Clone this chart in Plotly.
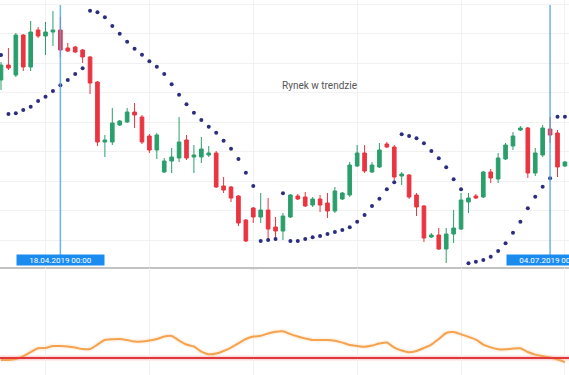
import plotly.graph_objects as go

# ---------------- data (bar index, OHLC, SAR, ADX) ----------------
bars = list(range(77))

open_ = [190, 205, 195, 235, 203, 240, 234, 238, 240, 222, 223, 220, 213, 188, 128, 128, 145, 148, 158, 153,
         134, 120, 98, 109, 112, 130, 113, 113, 115, 117, 84, 83, 74, 50, 62, 53, 60, 43, 39, 53,
         74, 73, 65, 71, 67, 59, 71, 75, 104, 117, 98, 103, 126, 123, 94, 95, 75, 64, 33, 35,
         21, 36, 41, 68, 74, 73, 98, 91, 111, 124, 140, 142, 97, 115, 141, 137, 104]
high = [208, 222, 237, 236, 249, 243, 248, 259, 253, 227, 224, 221, 214, 189, 135, 162, 150, 162, 167, 155,
        136, 137, 112, 122, 153, 135, 125, 133, 124, 119, 93, 84, 75, 51, 63, 77, 72, 53, 57, 76,
        76, 78, 73, 75, 77, 83, 78, 108, 125, 125, 108, 127, 128, 125, 98, 96, 77, 65, 37, 42,
        42, 60, 77, 77, 76, 99, 101, 117, 127, 138, 144, 143, 122, 145, 153, 140, 109]
low = [180, 200, 193, 199, 199, 232, 215, 224, 213, 218, 217, 207, 176, 124, 113, 125, 144, 147, 142, 126,
       117, 111, 97, 97, 108, 110, 97, 107, 113, 82, 77, 68, 44, 28, 47, 47, 30, 32, 30, 52,
       70, 63, 63, 58, 52, 57, 70, 73, 103, 97, 97, 102, 122, 90, 85, 71, 54, 28, 32, 20,
       7, 27, 40, 57, 71, 72, 87, 87, 110, 120, 139, 92, 94, 113, 127, 93, 103]
close = [205, 202, 235, 203, 238, 234, 238, 240, 220, 219, 218, 213, 187, 128, 130, 147, 149, 158, 155, 128,
         120, 135, 109, 113, 128, 112, 115, 121, 117, 83, 80, 72, 47, 29, 53, 60, 41, 39, 54, 75,
         71, 64, 71, 65, 59, 79, 77, 105, 117, 99, 105, 120, 123, 93, 96, 73, 63, 32, 35, 21,
         36, 42, 70, 72, 72, 98, 92, 112, 125, 134, 142, 97, 117, 142, 135, 103, 108]

sar = [215, 156, 156.7, 160, 163.3, 169, 173.3, 179, 184.7, 190, 196, 201.7, 259.3, 257.7, 252.7, 244, 236.3,
       228.3, 221.3, 215.3, 208.7, 203.3, 196, 185.7, 175.3, 165.7, 157.3, 150, 143.3, 137.3, 129.3, 121.3,
       111, 97.3, 84, 29, 30, 31, 76.7, 29, 29, 31, 32.7, 34, 36, 38, 40, 42.7, 48.3, 55, 64, 71.3, 80.7,
       87.7, 135.7, 134, 131.7, 126.7, 119, 111.7, 102.7, 90.7, 80.7, 6.7, 8.3, 10, 13.3, 19, 26.7, 37.3,
       48.3, 61.7, 73.3, 83.3, 91.7, 153.3, 153.3]

adx = [18.7, 18.7, 19.3, 21.3, 24, 26.5, 26.7, 28, 28, 27.7, 27, 26, 26, 29, 32, 32.5, 32.7, 32, 31, 31,
       31.7, 32.7, 34.3, 34.7, 31.7, 29, 27.7, 24.3, 22.5, 23, 24.7, 27, 29.8, 32.7, 34.3, 34.8, 36.3, 37.5,
       37.8, 35.9, 34.3, 33, 32, 32, 32, 31.5, 30.3, 28.7, 28.1, 27.5, 28.3, 29.7, 30.3, 27, 25, 23.8, 24.7,
       26.7, 29, 32.7, 36.7, 37.3, 35.8, 34.1, 32.3, 29, 27.1, 25.8, 25.8, 26.3, 26.5, 24, 22.3, 21.3, 20.3,
       19, 17.3]
adx_threshold = 20

marker_bars = [8, 74]
marker_labels = ["18.04.2019 00:00", "04.07.2019 00:00"]
trend_label = "Rynek w trendzie"

# ---------------- styling ----------------
GREEN = "#2a9f6c"
RED = "#ea3440"
NAVY = "#2b2d7e"
GRID = "#f1f1f1"
MAIN_BOTTOM = 0.288
SUB_TOP = 0.2853

fig = go.Figure()

fig.add_trace(go.Candlestick(
    x=bars, open=open_, high=high, low=low, close=close,
    increasing=dict(line=dict(color=GREEN, width=1), fillcolor=GREEN),
    decreasing=dict(line=dict(color=RED, width=1), fillcolor=RED),
    whiskerwidth=0, xaxis="x", yaxis="y", hoverinfo="skip", showlegend=False,
))

fig.add_trace(go.Scatter(
    x=bars, y=sar, mode="markers",
    marker=dict(color=NAVY, size=4), xaxis="x", yaxis="y", hoverinfo="skip", showlegend=False,
))

# faint glow under the ADX line
fig.add_trace(go.Scatter(
    x=bars, y=adx, mode="lines", line=dict(color="rgba(245,165,80,0.12)", width=5, shape="spline", smoothing=0.6),
    xaxis="x2", yaxis="y2", hoverinfo="skip", showlegend=False,
))
fig.add_trace(go.Scatter(
    x=bars, y=adx, mode="lines", line=dict(color="#f4a24e", width=2, shape="spline", smoothing=0.6),
    xaxis="x2", yaxis="y2", hoverinfo="skip", showlegend=False,
))

shapes = []
# threshold line (with faint halo)
shapes.append(dict(type="line", xref="paper", x0=0, x1=1, yref="y2", y0=adx_threshold, y1=adx_threshold,
                   line=dict(color="rgba(229,57,53,0.18)", width=5), layer="below"))
shapes.append(dict(type="line", xref="paper", x0=0, x1=1, yref="y2", y0=adx_threshold, y1=adx_threshold,
                   line=dict(color="#e2383c", width=2)))
# vertical marker lines
for b in marker_bars:
    shapes.append(dict(type="line", xref="x", x0=b, x1=b, yref="paper", y0=MAIN_BOTTOM + 0.01, y1=0.987,
                       line=dict(color="rgba(80,165,240,0.85)", width=1.5), layer="above"))
# small splitter handle
shapes.append(dict(type="rect", xref="paper", x0=250 / 569, x1=258 / 569, yref="paper",
                   y0=MAIN_BOTTOM - 0.006, y1=MAIN_BOTTOM, line=dict(width=0), fillcolor="#c4c4c4"))

annotations = []
for b, lab in zip(marker_bars, marker_labels):
    annotations.append(dict(
        x=b, xref="x", y=MAIN_BOTTOM + 0.002, yref="paper", yanchor="bottom", xanchor="center",
        text=lab, showarrow=False, font=dict(color="white", size=8, family="Roboto"),
        bgcolor="#1a8cf0", width=86, height=9, borderpad=0.5,
    ))
annotations.append(dict(
    x=319 / 569, xref="paper", y=1 - 78 / 375, yref="paper", text=trend_label, showarrow=False,
    font=dict(color="#555555", size=10, family="Roboto"),
))

fig.update_layout(
    width=569, height=375,
    margin=dict(l=0, r=0, t=0, b=0),
    paper_bgcolor="white", plot_bgcolor="white",
    showlegend=False,
    xaxis=dict(domain=[0, 1], anchor="y", range=[-0.135, 76.55], tick0=6, dtick=14,
               showgrid=True, gridcolor=GRID, gridwidth=1, showticklabels=False, zeroline=False,
               showline=True, linecolor="#c2c2c2", linewidth=1.5, rangeslider=dict(visible=False),
               ticks=""),
    yaxis=dict(domain=[MAIN_BOTTOM, 1], anchor="x", range=[3, 270], tick0=30, dtick=29.5,
               showgrid=True, gridcolor=GRID, gridwidth=1, showticklabels=False, zeroline=False, ticks=""),
    xaxis2=dict(domain=[0, 1], anchor="y2", matches="x", tick0=6, dtick=14,
                showgrid=True, gridcolor=GRID, gridwidth=1, showticklabels=False, zeroline=False,
                showline=False, ticks=""),
    yaxis2=dict(domain=[0, SUB_TOP], anchor="x2", range=[8.7, 80], showgrid=False,
                showticklabels=False, zeroline=False, ticks=""),
    shapes=shapes,
    annotations=annotations,
)

fig.write_html("out.html", config={"displayModeBar": False},
               post_script="document.body.style.margin='0';")
